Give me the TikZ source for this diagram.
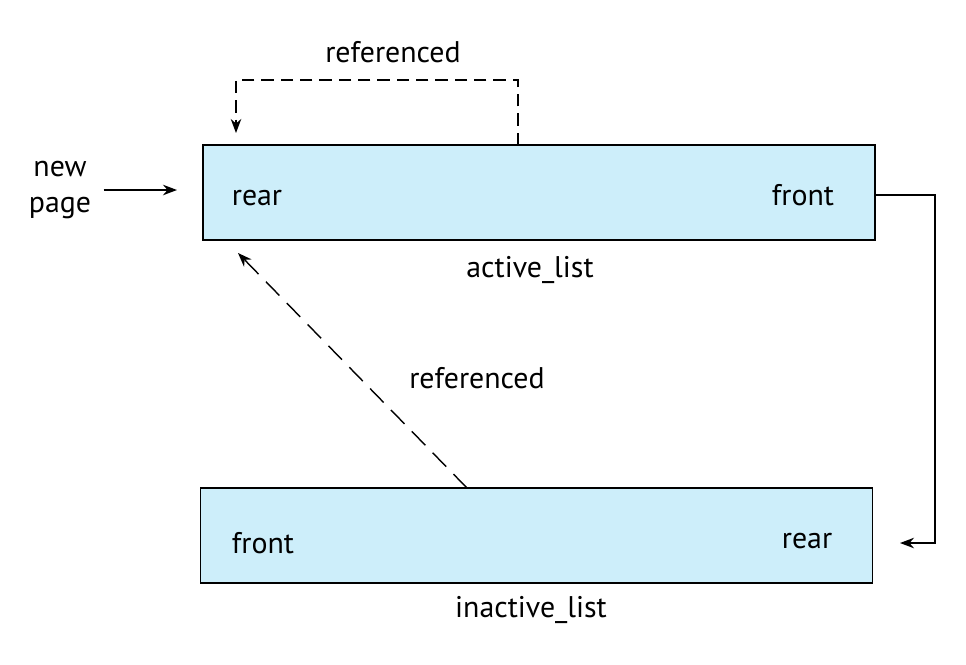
\documentclass[tikz,border=0pt]{standalone}
\usepackage{fontspec}
\setmainfont{PT Sans}
\usetikzlibrary{arrows.meta,positioning}
\definecolor{listblue}{HTML}{CDEEFA}
\begin{document}
\begin{tikzpicture}[
	x=0.02cm, y=-0.02cm,
	> = {Stealth[length=8pt,width=6pt]}, % arrow head style
	thick,
	every node/.style={font=\fontsize{17}{21}\selectfont},
	L/.style={draw=black, fill=listblue, minimum width=13.44cm, minimum height=1.9cm, inner sep=0pt},
	T/.style={inner sep=1pt, align=center},
	]
	\useasboundingbox (0,0) rectangle (966,664);

	% the two lists
	\node[L] (AL) at (539,192.5) {};
	\node[L] (IL) at (536.5,535.5) {};
	\node[T] (alr) at (257,198) {rear};
	\node[T] (alf) at (803,195) {front};
	\node[T] (aln) at (530,270) {active\_list};
	\node[T] (ilf) at (263,543) {front};
	\node[T] (ilr) at (807,541) {rear};
	\node[T] (iln) at (531,610) {inactive\_list};

	% new page
	\node[T] (np) at (60,190) {new\\page};
	\coordinate (npin) at (177,190);
	\draw[->] (np.east) ++(10,0) -- (npin);

	% referenced, on the active list
	\coordinate (r0) at (518,145);
	\coordinate (r1) at (518,80);
	\coordinate (r2) at (236,80);
	\coordinate (r3) at (236,133);
	\draw[->, dashed, dash pattern=on 7pt off 4pt] (r0) -- (r1) -- (r2) -- (r3);
	\node[T] (ref1) at (393,52) {referenced};

	% front of active to rear of inactive
	\coordinate (f1) at (935,195);
	\coordinate (f2) at (935,543);
	\coordinate (f3) at (900,543);
	\draw[->] (875,195) -- (f1) -- (f2) -- (f3);

	% referenced, from the inactive list
	\coordinate (d0) at (467,488);
	\coordinate (d1) at (238,253);
	\draw[->, dashed, dash pattern=on 11pt off 6pt] (d0) -- (d1);
	\node[T] (ref2) at (477,378) {referenced};
\end{tikzpicture}
\end{document}
